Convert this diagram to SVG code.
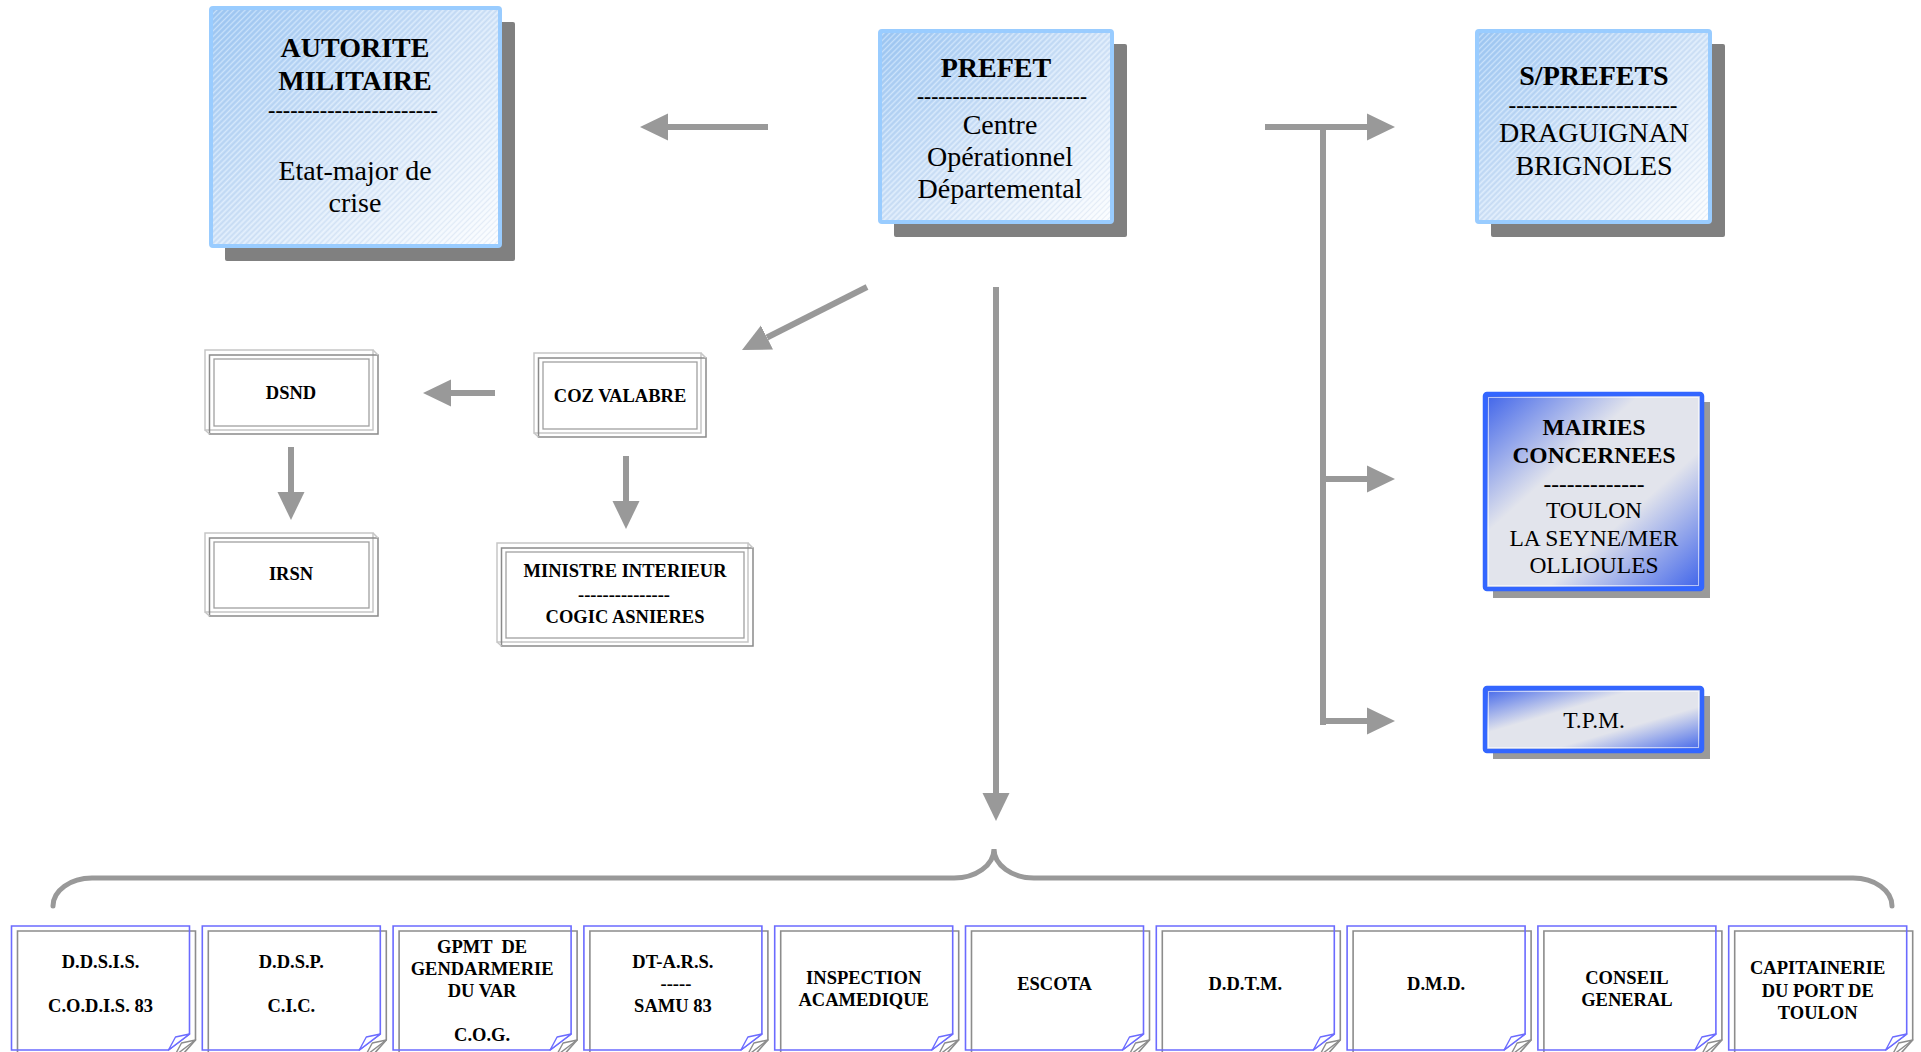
<svg xmlns="http://www.w3.org/2000/svg" width="1921" height="1052" viewBox="0 0 1921 1052">
  <defs>
    <style>
      .serif { font-family: "Liberation Serif", "Times New Roman", serif; fill: #000; text-anchor: middle; }
      .tb { font-size: 28px; font-weight: bold; }
      .tr { font-size: 28px; }
      .td { font-size: 20px; font-weight: bold; }
      .mb { font-size: 23.5px; font-weight: bold; }
      .mr { font-size: 23.5px; }
      .sb { font-size: 18.5px; font-weight: bold; }
      .shadowDark { fill: #808080; }
      .shadowLight { fill: #9a9a9a; }
      .sky { fill: url(#skyFill); stroke: #99ccff; stroke-width: 4; }
      .blue { fill: url(#blueFill); stroke: #3366ff; stroke-width: 4.5; }
      .hatch { fill: url(#hatch); stroke: none; }
      .frameBg { fill: #ffffff; stroke: none; }
      .frameA { fill: none; stroke: #c6c6c6; stroke-width: 1.5; }
      .frameB { fill: none; stroke: #8a8a8a; stroke-width: 1.5; }
      .frameC { fill: none; stroke: #a0a0a0; stroke-width: 1.3; }
      .pageBlue { fill: none; stroke: #6b6bff; stroke-width: 1.6; }
      .pageGrey { fill: none; stroke: #8c8c8c; stroke-width: 1.6; }
      .flapBlue { fill: #ffffff; stroke: #6b6bff; stroke-width: 1.4; stroke-linejoin: round; }
      .flapGrey { fill: #ffffff; stroke: #8c8c8c; stroke-width: 1.4; stroke-linejoin: round; }
      .link { fill: none; stroke: #999999; stroke-width: 6; }
      .linkArrow { fill: none; stroke: #999999; stroke-width: 6; marker-end: url(#head); }
      .brace { fill: none; stroke: #999999; stroke-width: 5; stroke-linecap: round; }
    </style>
    <linearGradient id="skyFill" x1="0" y1="0" x2="1" y2="1">
      <stop offset="0" stop-color="#9ec8f4"/>
      <stop offset="0.5" stop-color="#d3e5f9"/>
      <stop offset="1" stop-color="#fbfdff"/>
    </linearGradient>
    <linearGradient id="blueFill" x1="0" y1="0" x2="1" y2="1">
      <stop offset="0" stop-color="#3d62ea"/>
      <stop offset="0.36" stop-color="#e2e4ec"/>
      <stop offset="0.64" stop-color="#e2e4ec"/>
      <stop offset="1" stop-color="#3d62ea"/>
    </linearGradient>
    <pattern id="hatch" width="4" height="4" patternUnits="userSpaceOnUse" patternTransform="rotate(45)">
      <line x1="0.5" y1="0" x2="0.5" y2="4" stroke="#ffffff" stroke-width="1" stroke-opacity="0.4"/>
      <line x1="2.5" y1="0" x2="2.5" y2="4" stroke="#7d9cc4" stroke-width="0.8" stroke-opacity="0.18"/>
    </pattern>
    <marker id="head" markerUnits="userSpaceOnUse" markerWidth="28" markerHeight="28" viewBox="0 0 28 28" refX="0" refY="14" orient="auto">
      <path d="M0,0.5 L28,14 L0,27.5 Z" fill="#999999"/>
    </marker>
  </defs>

  <!-- connectors -->
  <g id="connectors">
    <line class="linkArrow" x1="768" y1="127" x2="668" y2="127"/>
    <line class="linkArrow" x1="867" y1="287" x2="767" y2="337.5"/>
    <line class="linkArrow" x1="996" y1="287" x2="996" y2="793"/>
    <line class="linkArrow" x1="1265" y1="127" x2="1367" y2="127"/>
    <line class="link" x1="1323" y1="127" x2="1323" y2="725"/>
    <line class="linkArrow" x1="1323" y1="479" x2="1367" y2="479"/>
    <line class="linkArrow" x1="1323" y1="721" x2="1367" y2="721"/>
    <line class="linkArrow" x1="495" y1="393" x2="451" y2="393"/>
    <line class="linkArrow" x1="291" y1="447" x2="291" y2="492"/>
    <line class="linkArrow" x1="626" y1="456" x2="626" y2="501"/>
    <path class="brace" d="M53,906 A39,28 0 0 1 92,878 H953 A40,29 0 0 0 994,849 A40,29 0 0 0 1034,878 H1853 A39,28 0 0 1 1892,906"/>
  </g>

  <!-- top row -->
  <g id="autorite-militaire">
    <rect class="shadowDark" x="225" y="22" width="290" height="239" rx="2"/>
    <rect class="sky" x="211" y="8" width="289" height="238" rx="2"/>
    <rect class="hatch" x="213" y="10" width="285" height="234"/>
    <text class="serif tb" x="355" y="57">AUTORITE</text>
    <text class="serif tb" x="355" y="90">MILITAIRE</text>
    <text class="serif td" x="353" y="116.5" textLength="170" lengthAdjust="spacingAndGlyphs">-----------------------</text>
    <text class="serif tr" x="355" y="180">Etat-major de</text>
    <text class="serif tr" x="355" y="212">crise</text>
  </g>

  <g id="prefet">
    <rect class="shadowDark" x="894" y="44" width="233" height="193" rx="2"/>
    <rect class="sky" x="880" y="31" width="232" height="191" rx="2"/>
    <rect class="hatch" x="882" y="33" width="228" height="187"/>
    <text class="serif tb" x="996" y="77">PREFET</text>
    <text class="serif td" x="1002" y="102.5" textLength="170" lengthAdjust="spacingAndGlyphs">------------------------</text>
    <text class="serif tr" x="1000" y="134">Centre</text>
    <text class="serif tr" x="1000" y="166">Opérationnel</text>
    <text class="serif tr" x="1000" y="198">Départemental</text>
  </g>

  <g id="sous-prefets">
    <rect class="shadowDark" x="1491" y="44" width="234" height="193" rx="2"/>
    <rect class="sky" x="1477" y="31" width="233" height="191" rx="2"/>
    <rect class="hatch" x="1479" y="33" width="229" height="187"/>
    <text class="serif tb" x="1594" y="85">S/PREFETS</text>
    <text class="serif td" x="1593" y="111.5" textLength="169" lengthAdjust="spacingAndGlyphs">----------------------</text>
    <text class="serif tr" x="1594" y="142">DRAGUIGNAN</text>
    <text class="serif tr" x="1594" y="175">BRIGNOLES</text>
  </g>

  <!-- right column -->
  <g id="mairies">
    <rect class="shadowLight" x="1493" y="402" width="217" height="196"/>
    <rect class="blue" x="1485" y="394" width="217" height="195" rx="2"/>
    <rect x="1488.5" y="397.5" width="210" height="188" fill="none" stroke="#ffffff" stroke-opacity="0.6" stroke-width="1"/>
    <text class="serif mb" x="1594" y="435">MAIRIES</text>
    <text class="serif mb" x="1594" y="463">CONCERNEES</text>
    <text class="serif td" x="1594" y="490.5" textLength="101" lengthAdjust="spacingAndGlyphs">-------------</text>
    <text class="serif mr" x="1594" y="518">TOULON</text>
    <text class="serif mr" x="1594" y="546">LA SEYNE/MER</text>
    <text class="serif mr" x="1594" y="573">OLLIOULES</text>
  </g>

  <g id="tpm">
    <rect class="shadowLight" x="1493" y="696" width="217" height="63"/>
    <rect class="blue" x="1485" y="688" width="217" height="63" rx="2"/>
    <rect x="1488.5" y="691.5" width="210" height="56" fill="none" stroke="#ffffff" stroke-opacity="0.6" stroke-width="1"/>
    <text class="serif mr" x="1594" y="728">T.P.M.</text>
  </g>

  <!-- framed boxes -->
  <g id="dsnd">
    <rect class="frameBg" x="205" y="350" width="173" height="84"/>
    <rect class="frameA" x="205" y="350" width="168" height="80"/>
    <rect class="frameB" x="209.5" y="355" width="168.5" height="79"/>
    <rect class="frameC" x="214" y="359" width="155" height="67"/>
    <path class="frameA" d="M373,350 L378,355 M205,430 L209.5,434"/>
    <text class="serif sb" x="291" y="399">DSND</text>
  </g>

  <g id="irsn">
    <rect class="frameBg" x="205" y="533" width="173" height="83"/>
    <rect class="frameA" x="205" y="533" width="168" height="79"/>
    <rect class="frameB" x="209.5" y="538" width="168.5" height="78"/>
    <rect class="frameC" x="214" y="542" width="155" height="66"/>
    <path class="frameA" d="M373,533 L378,538 M205,612 L209.5,616"/>
    <text class="serif sb" x="291" y="580">IRSN</text>
  </g>

  <g id="coz-valabre">
    <rect class="frameBg" x="534" y="353" width="172" height="84"/>
    <rect class="frameA" x="534" y="353" width="167" height="80"/>
    <rect class="frameB" x="538.5" y="358" width="167.5" height="79"/>
    <rect class="frameC" x="543" y="362" width="154" height="67"/>
    <path class="frameA" d="M701,353 L706,358 M534,433 L538.5,437"/>
    <text class="serif sb" x="620" y="402">COZ VALABRE</text>
  </g>

  <g id="ministre-interieur">
    <rect class="frameBg" x="497" y="543" width="256" height="103"/>
    <rect class="frameA" x="497" y="543" width="251" height="99"/>
    <rect class="frameB" x="501.5" y="548" width="251.5" height="98"/>
    <rect class="frameC" x="506" y="552" width="238" height="86"/>
    <path class="frameA" d="M748,543 L753,548 M497,642 L501.5,646"/>
    <text class="serif sb" x="625" y="577">MINISTRE INTERIEUR</text>
    <text class="serif sb" x="624" y="601" textLength="92" lengthAdjust="spacingAndGlyphs">---------------</text>
    <text class="serif sb" x="625" y="623">COGIC ASNIERES</text>
  </g>

  <!-- bottom row of services -->
  <g id="ddsis" transform="translate(11.5,926)">
    <path class="pageGrey" d="M6,140 V5 H184 V114 L168,132"/>
    <path class="flapGrey" d="M184,114 L170,117 L163,130 Z"/>
    <path class="pageBlue" d="M157,124 H0 V0 H178 V108 Z"/>
    <path class="flapBlue" d="M178,108 L164,111 L157,124 Z"/>
    <text class="serif sb" x="89" y="42">D.D.S.I.S.</text>
    <text class="serif sb" x="89" y="86">C.O.D.I.S. 83</text>
  </g>

  <g id="ddsp" transform="translate(202.3,926)">
    <path class="pageGrey" d="M6,140 V5 H184 V114 L168,132"/>
    <path class="flapGrey" d="M184,114 L170,117 L163,130 Z"/>
    <path class="pageBlue" d="M157,124 H0 V0 H178 V108 Z"/>
    <path class="flapBlue" d="M178,108 L164,111 L157,124 Z"/>
    <text class="serif sb" x="89" y="42">D.D.S.P.</text>
    <text class="serif sb" x="89" y="86">C.I.C.</text>
  </g>

  <g id="gendarmerie" transform="translate(393.1,926)">
    <path class="pageGrey" d="M6,140 V5 H184 V114 L168,132"/>
    <path class="flapGrey" d="M184,114 L170,117 L163,130 Z"/>
    <path class="pageBlue" d="M157,124 H0 V0 H178 V108 Z"/>
    <path class="flapBlue" d="M178,108 L164,111 L157,124 Z"/>
    <text class="serif sb" x="89" y="27" xml:space="preserve">GPMT  DE</text>
    <text class="serif sb" x="89" y="49">GENDARMERIE</text>
    <text class="serif sb" x="89" y="71">DU VAR</text>
    <text class="serif sb" x="89" y="115">C.O.G.</text>
  </g>

  <g id="dt-ars" transform="translate(583.9,926)">
    <path class="pageGrey" d="M6,140 V5 H184 V114 L168,132"/>
    <path class="flapGrey" d="M184,114 L170,117 L163,130 Z"/>
    <path class="pageBlue" d="M157,124 H0 V0 H178 V108 Z"/>
    <path class="flapBlue" d="M178,108 L164,111 L157,124 Z"/>
    <text class="serif sb" x="89" y="42">DT-A.R.S.</text>
    <text class="serif sb" x="92" y="64">-----</text>
    <text class="serif sb" x="89" y="86">SAMU 83</text>
  </g>

  <g id="inspection" transform="translate(774.7,926)">
    <path class="pageGrey" d="M6,140 V5 H184 V114 L168,132"/>
    <path class="flapGrey" d="M184,114 L170,117 L163,130 Z"/>
    <path class="pageBlue" d="M157,124 H0 V0 H178 V108 Z"/>
    <path class="flapBlue" d="M178,108 L164,111 L157,124 Z"/>
    <text class="serif sb" x="89" y="58">INSPECTION</text>
    <text class="serif sb" x="89" y="80">ACAMEDIQUE</text>
  </g>

  <g id="escota" transform="translate(965.5,926)">
    <path class="pageGrey" d="M6,140 V5 H184 V114 L168,132"/>
    <path class="flapGrey" d="M184,114 L170,117 L163,130 Z"/>
    <path class="pageBlue" d="M157,124 H0 V0 H178 V108 Z"/>
    <path class="flapBlue" d="M178,108 L164,111 L157,124 Z"/>
    <text class="serif sb" x="89" y="64">ESCOTA</text>
  </g>

  <g id="ddtm" transform="translate(1156.3,926)">
    <path class="pageGrey" d="M6,140 V5 H184 V114 L168,132"/>
    <path class="flapGrey" d="M184,114 L170,117 L163,130 Z"/>
    <path class="pageBlue" d="M157,124 H0 V0 H178 V108 Z"/>
    <path class="flapBlue" d="M178,108 L164,111 L157,124 Z"/>
    <text class="serif sb" x="89" y="64">D.D.T.M.</text>
  </g>

  <g id="dmd" transform="translate(1347.1,926)">
    <path class="pageGrey" d="M6,140 V5 H184 V114 L168,132"/>
    <path class="flapGrey" d="M184,114 L170,117 L163,130 Z"/>
    <path class="pageBlue" d="M157,124 H0 V0 H178 V108 Z"/>
    <path class="flapBlue" d="M178,108 L164,111 L157,124 Z"/>
    <text class="serif sb" x="89" y="64">D.M.D.</text>
  </g>

  <g id="conseil-general" transform="translate(1537.9,926)">
    <path class="pageGrey" d="M6,140 V5 H184 V114 L168,132"/>
    <path class="flapGrey" d="M184,114 L170,117 L163,130 Z"/>
    <path class="pageBlue" d="M157,124 H0 V0 H178 V108 Z"/>
    <path class="flapBlue" d="M178,108 L164,111 L157,124 Z"/>
    <text class="serif sb" x="89" y="58">CONSEIL</text>
    <text class="serif sb" x="89" y="80">GENERAL</text>
  </g>

  <g id="capitainerie" transform="translate(1728.7,926)">
    <path class="pageGrey" d="M6,140 V5 H184 V114 L168,132"/>
    <path class="flapGrey" d="M184,114 L170,117 L163,130 Z"/>
    <path class="pageBlue" d="M157,124 H0 V0 H178 V108 Z"/>
    <path class="flapBlue" d="M178,108 L164,111 L157,124 Z"/>
    <text class="serif sb" x="89" y="48">CAPITAINERIE</text>
    <text class="serif sb" x="89" y="71">DU PORT DE</text>
    <text class="serif sb" x="89" y="93">TOULON</text>
  </g>
</svg>
